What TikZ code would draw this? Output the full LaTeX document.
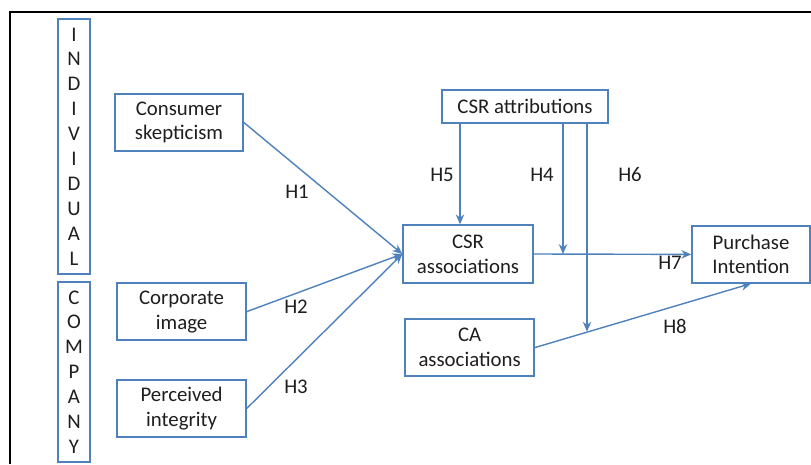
\documentclass[tikz,border=0pt]{standalone}
\usepackage{fontspec}
\setmainfont{Carlito}
\usetikzlibrary{arrows.meta}
\definecolor{lineblue}{RGB}{79,129,189}
\definecolor{txtgray}{RGB}{30,30,30}
\pgfdeclarelayer{bg}
\pgfsetlayers{bg,main}
\tikzset{
    every node/.style={rectangle, inner sep=0mm, draw=lineblue, line width=1pt, text=txtgray,
        align=center, font=\fontsize{14.8}{17.7}\selectfont}
}
\tikzset{hyp/.style={draw=none}}
\tikzset{link/.style={draw=lineblue, line width=1pt, -{Stealth[length=7pt, width=6pt]}}}

\begin{document}
\begin{tikzpicture}
    \useasboundingbox (0,0) rectangle (20.275,11.6);
    \draw[line width=1.4pt, black] (0.25,0) -- (0.25,11.3) -- (20.275,11.3);

    \node (indiv) [minimum width=0.8cm, minimum height=6.375cm] at (1.85cm, 7.94cm) {I\\N\\D\\I\\V\\I\\D\\U\\A\\L};
    \node (comp) [minimum width=0.8cm, minimum height=4.5cm] at (1.85cm, 2.3cm) {C\\O\\M\\P\\A\\N\\Y};

    \node (skep) [minimum width=3.2cm, minimum height=1.425cm] at (4.475cm, 8.54cm) {Consumer\\skepticism};
    \node (corp) [minimum width=3.225cm, minimum height=1.425cm] at (4.54cm, 3.81cm) {Corporate\\image};
    \node (integ) [minimum width=3.225cm, minimum height=1.425cm] at (4.54cm, 1.39cm) {Perceived\\integrity};

    \node (attr) [minimum width=4.15cm, minimum height=0.825cm] at (13.125cm, 8.94cm) {CSR attributions};
    \node (csra) [minimum width=3.25cm, minimum height=1.45cm] at (11.7cm, 5.25cm) {CSR\\associations};
    \node (caa) [minimum width=3.225cm, minimum height=1.425cm] at (11.74cm, 2.91cm) {CA\\associations};
    \node (purch) [minimum width=2.95cm, minimum height=1.425cm] at (18.775cm, 5.24cm) {Purchase\\Intention};

    \node (h1) [hyp] at (7.425cm, 6.8cm) {H1};
    \node (h2) [hyp] at (7.4cm, 3.925cm) {H2};
    \node (h3) [hyp] at (7.4cm, 1.925cm) {H3};
    \node (h5) [hyp] at (11.05cm, 7.225cm) {H5};
    \node (h4) [hyp] at (13.55cm, 7.225cm) {H4};
    \node (h6) [hyp] at (15.75cm, 7.225cm) {H6};
    \node (h7) [hyp] at (16.75cm, 5.025cm) {H7};
    \node (h8) [hyp] at (16.875cm, 3.45cm) {H8};

    \coordinate (x5) at (11.5cm, 0cm);
    \coordinate (j4) at (14.075cm, 5.25cm);
    \coordinate (j6) at (14.675cm, 3.31cm);

    \begin{pgfonlayer}{bg}
        \draw[link] (skep.east) -- (csra.west);
        \draw[link] (corp.east) -- (csra.west);
        \draw[link] (integ.east) -- (csra.west);

        \draw[link] (attr.south -| x5) -- (csra.north -| x5);
        \draw[link] (attr.south -| j4) -- (j4);
        \draw[link] (attr.south -| j6) -- (j6);

        \draw[link] (csra.east) -- (purch.west);
        \draw[link] (caa.east) -- (purch.south);
    \end{pgfonlayer}
\end{tikzpicture}
\end{document}
